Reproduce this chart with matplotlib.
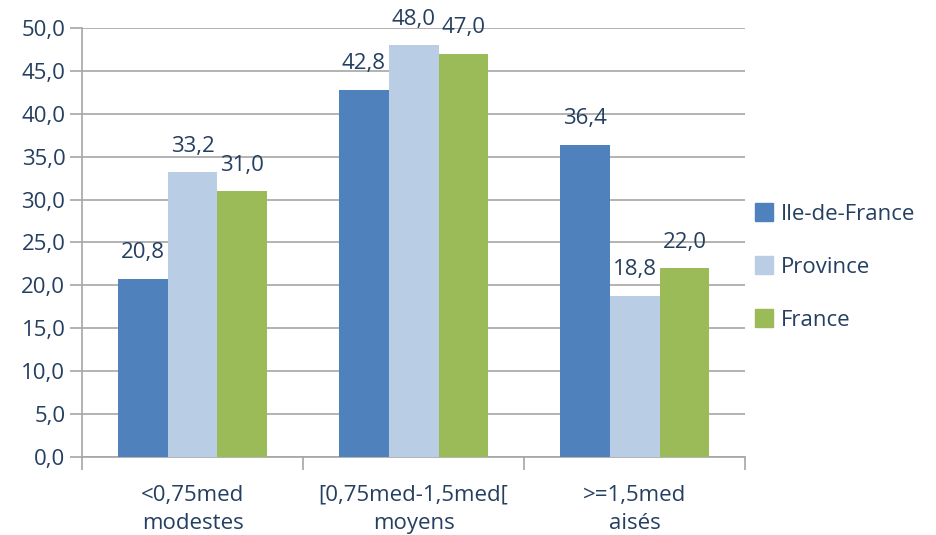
import numpy as np
import matplotlib.pyplot as plt
from matplotlib.ticker import FuncFormatter
from matplotlib.lines import Line2D

# Données
categories = ['<0,75med\nmodestes', '[0,75med-1,5med[\nmoyens', '>=1,5med\naisés']
series = ['Ile-de-France', 'Province', 'France']
ile_de_france = [20.8, 42.8, 36.4]
province = [33.2, 48.0, 18.8]
france = [31.0, 47.0, 22.0]

couleurs = ['#4F81BD', '#B9CDE5', '#9BBB59']
texte = '#243F60'

plt.rcParams['font.family'] = ['Open Sans', 'DejaVu Sans']

fig = plt.figure(figsize=(9.36, 5.35), dpi=100)
ax = fig.add_axes([0.0876, 0.1458, 0.7084, 0.8019])

x = np.arange(len(categories))
w = 0.226
valeurs = [ile_de_france, province, france]
for i, (nom, vals) in enumerate(zip(series, valeurs)):
    pos = x + (i - 1) * w
    ax.bar(pos, vals, width=w, color=couleurs[i], label=nom, zorder=3)
    for p, v in zip(pos, vals):
        ax.text(p, v + 1.8, f'{v:.1f}'.replace('.', ','), ha='center', va='bottom',
                fontsize=16, color=texte)

ax.set_xlim(-0.5, 2.5)
ax.set_ylim(0, 50)
ax.set_yticks(np.arange(0, 51, 5))
ax.yaxis.set_major_formatter(FuncFormatter(lambda v, p: f'{v:.1f}'.replace('.', ',')))
ax.yaxis.grid(True, color='#A6A6A6', linewidth=1.2, zorder=0)
ax.tick_params(axis='y', length=9, color='#A6A6A6', width=1.2, labelsize=16,
               labelcolor=texte, pad=3)

ax.set_xticks([-0.5, 0.5, 1.5, 2.5])
ax.set_xticklabels([])
ax.set_xticks(x, minor=True)
ax.set_xticklabels(categories, minor=True, fontsize=16, color=texte, linespacing=1.45)
ax.tick_params(axis='x', which='major', length=9, color='#A6A6A6', width=1.2)
ax.tick_params(axis='x', which='minor', length=0, pad=20)

for s in ['top', 'right']:
    ax.spines[s].set_visible(False)
for s in ['left', 'bottom']:
    ax.spines[s].set_color('#A6A6A6')
    ax.spines[s].set_linewidth(1.2)

handles = [Line2D([], [], marker='s', linestyle='none', markersize=13,
                  markerfacecolor=c, markeredgecolor=c) for c in couleurs]
leg = fig.legend(handles, series, loc='center left', bbox_to_anchor=(0.782, 0.5),
                 frameon=False, fontsize=16, labelspacing=1.45, handletextpad=0.2,
                 handlelength=1.1)
for t in leg.get_texts():
    t.set_color(texte)

fig.savefig('out.png', dpi=100)
